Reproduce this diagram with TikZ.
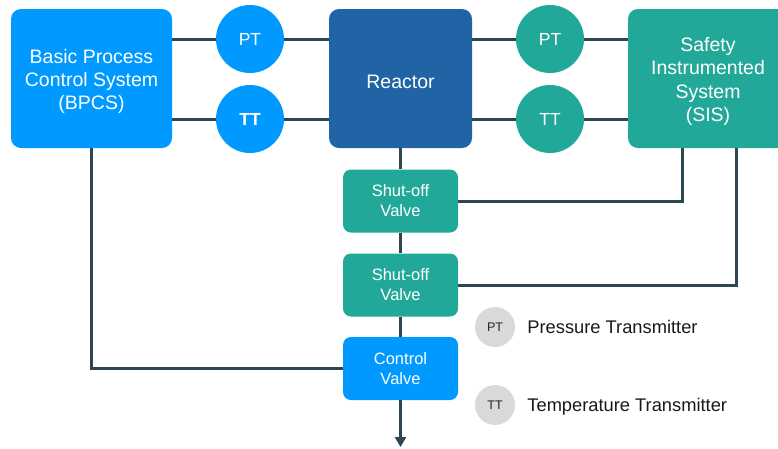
\documentclass[tikz,border=0pt]{standalone}
\usepackage{fontspec}
\setmainfont{Liberation Sans}
\usetikzlibrary{arrows.meta,backgrounds,positioning}

\definecolor{procblue}{RGB}{0,153,255}
\definecolor{reactblue}{RGB}{32,100,166}
\definecolor{sisgreen}{RGB}{34,168,152}
\definecolor{wirecol}{RGB}{44,70,82}
\definecolor{keygrey}{RGB}{217,217,217}

\begin{document}
\begin{tikzpicture}[x=1pt, y=-1pt,
  block/.style={rounded corners=10pt, text=white, align=center, inner sep=0pt,
    minimum height=139pt, font=\fontsize{19.5}{23.3}\selectfont},
  valve/.style={rounded corners=8pt, text=white, align=center, inner sep=0pt,
    minimum width=115pt, minimum height=63pt, font=\fontsize{16.5}{20}\selectfont},
  sensor/.style={circle, minimum size=68pt, inner sep=0pt, text=white,
    font=\fontsize{17.5}{20}\selectfont},
  keydot/.style={circle, fill=keygrey, minimum size=40pt, inner sep=0pt,
    text=black!85, font=\fontsize{12.5}{14}\selectfont},
  keytext/.style={right=9pt of #1, yshift=-2.5pt, inner sep=3pt, text height=0.72em,
    text depth=0pt, text=black!90, font=\fontsize{18.3}{20}\selectfont},
  wire/.style={draw=wirecol, line width=3pt}]

\clip (0,0) rectangle (778,448);

\node[block, fill=procblue, minimum width=161pt] (bpcs) at (91.5,78.5) {\rule{0pt}{20pt}Basic Process\\Control System\\(BPCS)};
\node[block, fill=reactblue, minimum width=143pt] (reactor) at (400.5,78.5) {\rule{0pt}{20pt}Reactor};
\node[block, fill=sisgreen, minimum width=160pt] (sis) at (708,78.5) {\rule{0pt}{20pt}Safety\\Instrumented\\System\\(SIS)};

\node[sensor, fill=procblue] (bpt) at (250,39) {PT};
\node[sensor, fill=procblue] (btt) at (250,119) {\textbf{TT}};
\node[sensor, fill=sisgreen] (spt) at (550,39) {PT};
\node[sensor, fill=sisgreen] (stt) at (550,119) {TT};

\node[valve, fill=sisgreen] (sov1) at (400.5,201) {Shut-off\\Valve};
\node[valve, fill=sisgreen] (sov2) at (400.5,285) {Shut-off\\Valve};
\node[valve, fill=procblue] (cv) at (400.5,368.5) {Control\\Valve};
\coordinate (outlet) at (400.5,447);

\node[keydot] (kpt) at (495,327) {PT};
\node[keytext=kpt] (kptl) {Pressure Transmitter};
\node[keydot] (ktt) at (495,405) {TT};
\node[keytext=ktt] (kttl) {Temperature Transmitter};

\begin{pgfonlayer}{background}
\foreach \s in {bpt, btt} {
\draw[wire] (bpcs.east |- \s) -- (\s) -- (reactor.west |- \s);
}
\foreach \s in {spt, stt} {
\draw[wire] (reactor.east |- \s) -- (\s) -- (sis.west |- \s);
}
\draw[wire] (reactor) -- (sov1) -- (sov2) -- (cv);
\draw[wire] ([xshift=-26pt]sis.south) |- (sov1.east);
\draw[wire] ([xshift=28pt]sis.south) |- (sov2.east);
\draw[wire] (bpcs.south) |- (cv.west);
\end{pgfonlayer}

\draw[wire, -{Triangle[width=11pt,length=10pt]}] (cv.south) -- (outlet);

\end{tikzpicture}
\end{document}
